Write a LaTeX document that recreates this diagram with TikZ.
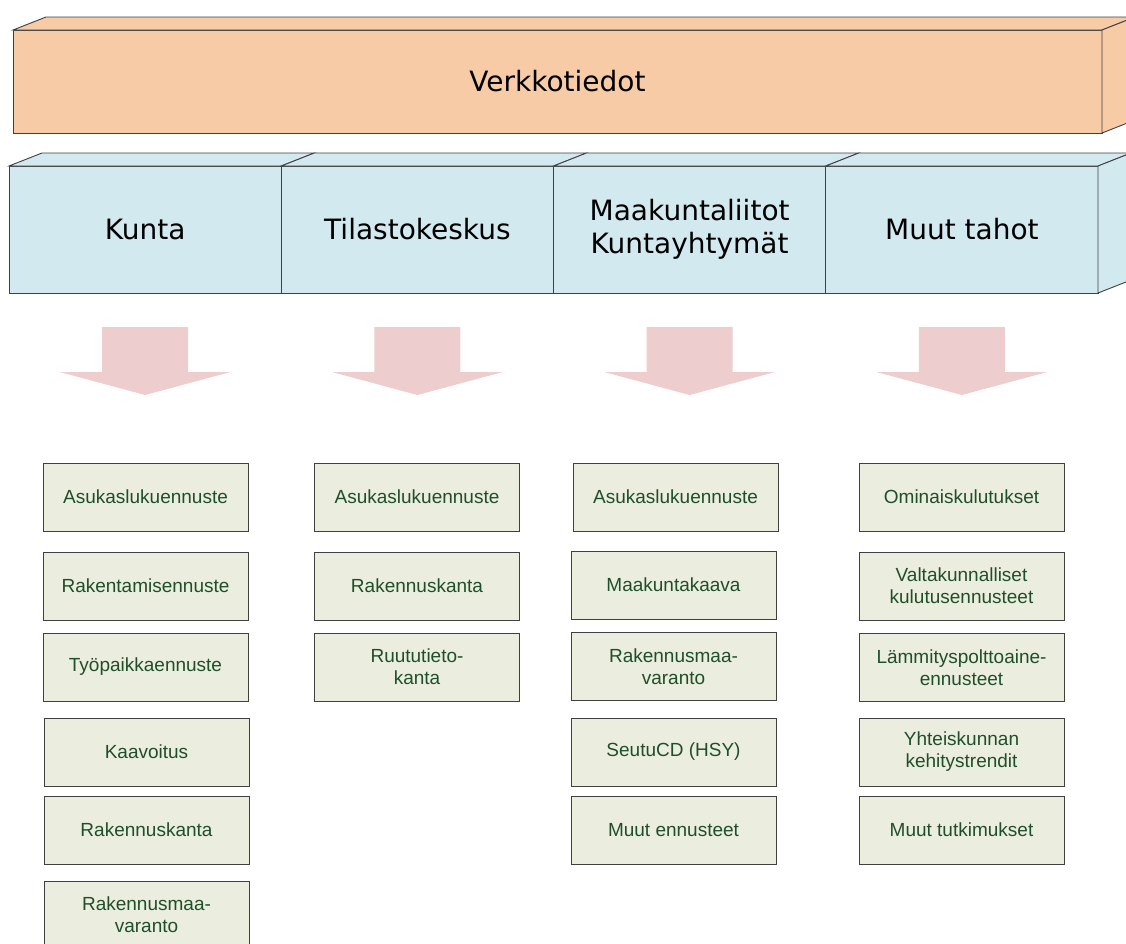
\documentclass[tikz,border=0pt]{standalone}
\usepackage{fontspec}
\setmainfont{Liberation Sans}
\newfontfamily\hdrfont{DejaVu Sans}

\definecolor{toporange}{HTML}{F8CBA7}
\definecolor{hdrblue}{HTML}{D2E9EF}
\definecolor{arrowpink}{HTML}{EDCDCD}
\definecolor{itemfill}{HTML}{EBEEDE}
\definecolor{itemtext}{HTML}{1F4F2A}

\tikzset{
  edge/.style={draw=black!75, line width=0.9pt},
  topbox/.style={edge, fill=toporange, minimum width=1089pt, minimum height=103pt,
    inner sep=0, outer sep=0, font=\hdrfont\fontsize{28}{33}\selectfont},
  topface/.style={edge, fill=toporange},
  hdr/.style={edge, fill=hdrblue, minimum width=272.25pt, minimum height=127pt,
    inner sep=0, outer sep=0, align=center, font=\hdrfont\fontsize{28}{33}\selectfont},
  hdrface/.style={edge, fill=hdrblue},
  downarrow/.style={fill=arrowpink},
  item/.style={edge, fill=itemfill, text=itemtext, minimum width=205pt, minimum height=68pt,
    inner sep=0, outer sep=0, align=center, font=\fontsize{19}{22}\selectfont}
}

\begin{document}
\begin{tikzpicture}[x=1pt, y=-1pt]

\useasboundingbox (0,0) rectangle (1126,943);
\clip (0,0) rectangle (1126,943);

% top box
\node[topbox] (verkko) at (557.5,81.5) {Verkkotiedot};
\draw[topface] (verkko.north west) -- ++(33,-13) -- ++(1089,0) -- (verkko.north east) -- cycle;
\draw[topface] (verkko.north east) -- ++(33,-13) -- ++(0,103) -- (verkko.south east) -- cycle;

% sources
\node[hdr] (kunta) at (145.1,229.5) {Kunta};
\node[hdr] (tilasto) at (417.4,229.5) {Tilastokeskus};
\node[hdr] (maakunta) at (689.6,229.5) {Maakuntaliitot\\Kuntayhtymät};
\node[hdr] (muut) at (961.9,229.5) {Muut tahot};

\draw[hdrface] (kunta.north west) -- ++(33,-13) -- ++(272.25,0) -- (kunta.north east) -- cycle;
\draw[hdrface] (tilasto.north west) -- ++(33,-13) -- ++(272.25,0) -- (tilasto.north east) -- cycle;
\draw[hdrface] (maakunta.north west) -- ++(33,-13) -- ++(272.25,0) -- (maakunta.north east) -- cycle;
\draw[hdrface] (muut.north west) -- ++(33,-13) -- ++(272.25,0) -- (muut.north east) -- cycle;
\draw[hdrface] (muut.north east) -- ++(33,-13) -- ++(0,127) -- (muut.south east) -- cycle;

% arrows
\fill[downarrow] (kunta.south) ++(-43,34) -- ++(86,0) -- ++(0,45) -- ++(42.5,0)
  -- ++(-85.5,23) -- ++(-85.5,-23) -- ++(42.5,0) -- cycle;
\fill[downarrow] (tilasto.south) ++(-43,34) -- ++(86,0) -- ++(0,45) -- ++(42.5,0)
  -- ++(-85.5,23) -- ++(-85.5,-23) -- ++(42.5,0) -- cycle;
\fill[downarrow] (maakunta.south) ++(-43,34) -- ++(86,0) -- ++(0,45) -- ++(42.5,0)
  -- ++(-85.5,23) -- ++(-85.5,-23) -- ++(42.5,0) -- cycle;
\fill[downarrow] (muut.south) ++(-43,34) -- ++(86,0) -- ++(0,45) -- ++(42.5,0)
  -- ++(-85.5,23) -- ++(-85.5,-23) -- ++(42.5,0) -- cycle;

% Kunta
\node[item] (kunta1) at (145.5,497) {Asukaslukuennuste};
\node[item] (kunta2) at (145.5,586) {Rakentamisennuste};
\node[item] (kunta3) at (145.5,667) {Työpaikkaennuste};
\node[item] (kunta4) at (146.5,752) {Kaavoitus};
\node[item] (kunta5) at (146.5,830) {Rakennuskanta};
\node[item] (kunta6) at (146.5,915) {Rakennusmaa-\\varanto};

% Tilastokeskus
\node[item] (tilasto1) at (417,497) {Asukaslukuennuste};
\node[item] (tilasto2) at (417,586) {Rakennuskanta};
\node[item] (tilasto3) at (417,667) {Ruututieto-\\kanta};

% Maakuntaliitot
\node[item] (maakunta1) at (675.5,497) {Asukaslukuennuste};
\node[item] (maakunta2) at (673.5,585) {Maakuntakaava};
\node[item] (maakunta3) at (673.5,666.5) {Rakennusmaa-\\varanto};
\node[item] (maakunta4) at (673.5,752) {SeutuCD (HSY)};
\node[item] (maakunta5) at (673.5,830) {Muut ennusteet};

% Muut tahot
\node[item] (muut1) at (961.5,497) {Ominaiskulutukset};
\node[item] (muut2) at (961.5,586) {Valtakunnalliset\\kulutusennusteet};
\node[item] (muut3) at (961.5,667.5) {Lämmityspolttoaine-\\ennusteet};
\node[item] (muut4) at (961.5,752) {Yhteiskunnan\\kehitystrendit};
\node[item] (muut5) at (961.5,830) {Muut tutkimukset};

\end{tikzpicture}
\end{document}
